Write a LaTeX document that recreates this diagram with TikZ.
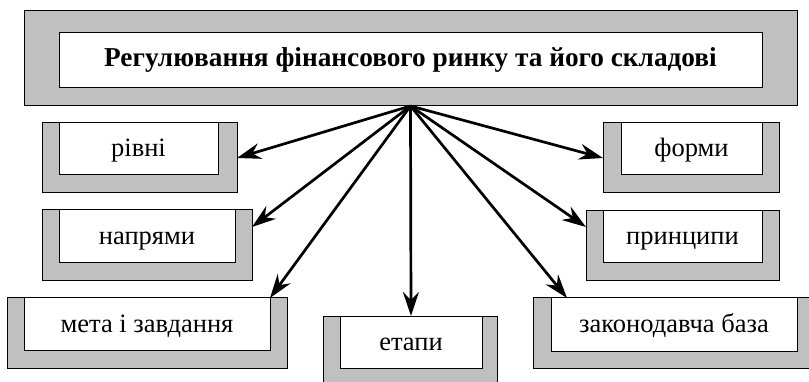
\documentclass[tikz,border=0pt]{standalone}
\usepackage{fontspec}
\setmainfont{Liberation Serif}
\usetikzlibrary{arrows.meta,calc}
\definecolor{boxgray}{HTML}{C0C0C0}
\tikzset{
  outerbox/.style={draw=black, fill=boxgray, line width=1pt, inner sep=0pt, outer sep=0pt},
  innerbox/.style={draw=black, fill=white, line width=1pt, inner sep=0pt, outer sep=0pt,
    font=\fontsize{26.5}{30}\selectfont, text height=18pt, text depth=2pt},
  titlebox/.style={innerbox, font=\fontsize{27.3}{32}\selectfont\bfseries, text height=18pt, text depth=5pt},
  link/.style={line width=2.7pt, -{Stealth[length=24pt,width=16pt,inset=8pt]}}
}
\newcommand{\ubox}[9]{%
  \node[outerbox, minimum width={#4-#2}, minimum height={#5-#3}] (o#1) at ({(#2+#4)/2},{(#3+#5)/2}) {};
  \node[innerbox, minimum width={#7-#6}, minimum height={#8-#3}] (i#1) at ({(#6+#7)/2},{(#3+#8)/2}) {#9};
}
\begin{document}
\begin{tikzpicture}[x=1pt,y=-1pt]
\useasboundingbox (0,0) rectangle (809,382);
\clip (0,0) rectangle (809,382);
% top box
\node[outerbox, minimum width=773, minimum height=95] (otop) at (410.5,58.5) {};
\node[titlebox, minimum width=703, minimum height=55] (itop) at (410.5,60.5) {Регулювання фінансового ринку та його складові};
% side boxes
\ubox{a}{42}{123}{237}{193}{59}{218}{175}{рівні}
\ubox{b}{42}{210}{252}{281}{59}{235}{263}{напрями}
\ubox{c}{7}{298}{287}{368}{24}{270}{350}{мета і завдання}
\ubox{d}{323}{316}{497}{396}{340}{482}{368}{етапи}
\ubox{e}{603}{123}{779}{193}{621}{762}{175}{форми}
\ubox{f}{586}{211}{779}{281}{603}{762}{263}{принципи}
\ubox{g}{533}{298}{815}{368}{551}{797}{351}{законодавча база}
% connectors
\draw[link] (otop.south) -- (oa.east);
\draw[link] (otop.south) -- ([yshift=-17pt]ob.north east);
\draw[link] (otop.south) -- (ic.north east);
\draw[link] (otop.south) -- (id.north);
\draw[link] (otop.south) -- (oe.west);
\draw[link] (otop.south) -- ([yshift=-16pt]of.north west);
\draw[link] (otop.south) -- ([xshift=16pt]ig.north west);
\end{tikzpicture}
\end{document}
